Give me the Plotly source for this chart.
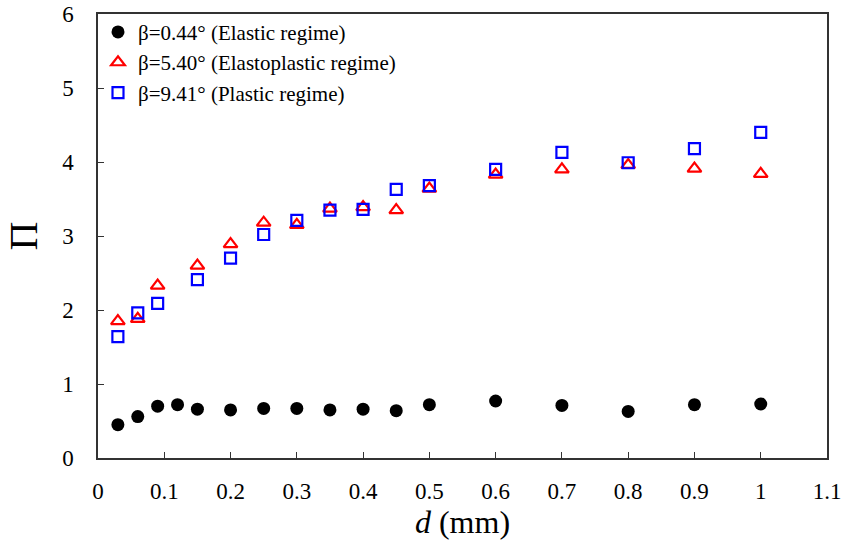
import plotly.graph_objects as go

d_elastic = [0.03, 0.06, 0.09, 0.12, 0.15, 0.2, 0.25, 0.3, 0.35, 0.4, 0.45, 0.5, 0.6, 0.7, 0.8, 0.9, 1.0]
pi_elastic = [0.45, 0.56, 0.70, 0.72, 0.66, 0.65, 0.67, 0.67, 0.65, 0.66, 0.64, 0.72, 0.77, 0.71, 0.63, 0.72, 0.73]

d_elastoplastic = [0.03, 0.06, 0.09, 0.15, 0.2, 0.25, 0.3, 0.35, 0.4, 0.45, 0.5, 0.6, 0.7, 0.8, 0.9, 1.0]
pi_elastoplastic = [1.85, 1.88, 2.33, 2.60, 2.89, 3.18, 3.15, 3.37, 3.39, 3.35, 3.64, 3.83, 3.90, 3.96, 3.91, 3.84]

d_plastic = [0.03, 0.06, 0.09, 0.15, 0.2, 0.25, 0.3, 0.35, 0.4, 0.45, 0.5, 0.6, 0.7, 0.8, 0.9, 1.0]
pi_plastic = [1.64, 1.96, 2.09, 2.41, 2.70, 3.02, 3.21, 3.35, 3.36, 3.63, 3.68, 3.90, 4.13, 3.99, 4.18, 4.40]

names = ["β=0.44° (Elastic regime)", "β=5.40° (Elastoplastic regime)", "β=9.41° (Plastic regime)"]
x_ticks = [0, 0.1, 0.2, 0.3, 0.4, 0.5, 0.6, 0.7, 0.8, 0.9, 1, 1.1]
x_tick_text = ["0", "0.1", "0.2", "0.3", "0.4", "0.5", "0.6", "0.7", "0.8", "0.9", "1", "1.1"]
y_ticks = [0, 1, 2, 3, 4, 5, 6]

serif = "Liberation Serif, Times New Roman, serif"

fig = go.Figure()
fig.add_trace(go.Scatter(x=d_elastic, y=pi_elastic, mode="markers", name=names[0],
                         marker=dict(symbol="circle", size=13, color="black", line=dict(width=0))))
fig.add_trace(go.Scatter(x=d_elastoplastic, y=pi_elastoplastic, mode="markers", name=names[1],
                         marker=dict(symbol="triangle-up-open", size=12, color="red", line=dict(width=2.2, color="red"))))
fig.add_trace(go.Scatter(x=d_plastic, y=pi_plastic, mode="markers", name=names[2],
                         marker=dict(symbol="square-open", size=11, color="blue", line=dict(width=2.2, color="blue"))))

fig.update_layout(
    width=846, height=548,
    margin=dict(l=98, r=19, t=14, b=90, autoexpand=False),
    paper_bgcolor="white", plot_bgcolor="white",
    font=dict(family=serif, size=23, color="black"),
    showlegend=True,
    legend=dict(x=0.0, y=1.005, xanchor="left", yanchor="top", bgcolor="rgba(0,0,0,0)",
                font=dict(family=serif, size=21, color="black"), itemwidth=30,
                tracegroupgap=0),
    xaxis=dict(range=[0, 1.1], tickvals=x_ticks, ticktext=x_tick_text, automargin=False,
               showgrid=False, zeroline=False, showline=True, linecolor="#333", linewidth=1.5,
               mirror=True, ticks="inside", ticklen=6, tickcolor="#333", ticklabelstandoff=12,
               ticklabeloverflow="allow", tickfont=dict(family=serif, size=23),
               title=dict(text="<i>d</i> (mm)", font=dict(family=serif, size=32), standoff=6)),
    yaxis=dict(range=[0, 6], tickvals=y_ticks, automargin=False,
               showgrid=False, zeroline=False, showline=True, linecolor="#333", linewidth=1.5,
               mirror=True, ticks="inside", ticklen=6, tickcolor="#333", ticklabelstandoff=18,
               ticklabeloverflow="allow", tickfont=dict(family=serif, size=23),
               title=dict(text="Π", font=dict(family=serif, size=40), standoff=12)),
)

fig.write_html("out.html", config={"displayModeBar": False},
               post_script="document.body.style.margin='0px';")
